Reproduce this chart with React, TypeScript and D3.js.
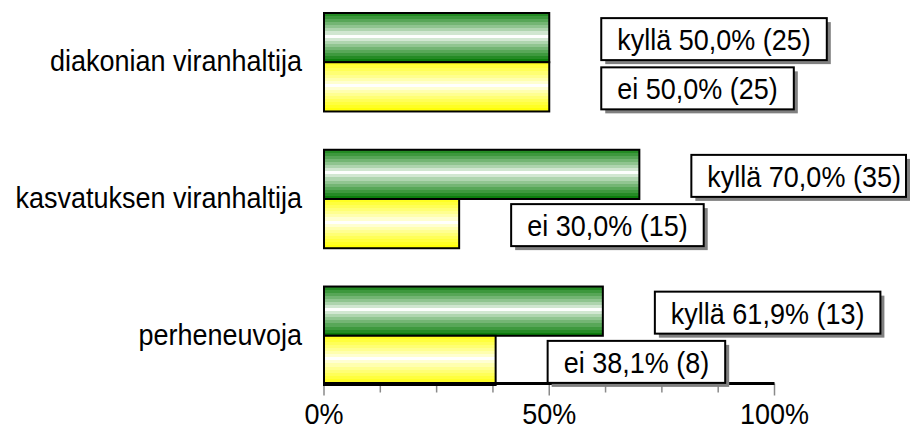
import React, { useEffect, useRef } from "react";
import * as d3 from "d3";

const categories = ["diakonian viranhaltija", "kasvatuksen viranhaltija", "perheneuvoja"];
const series = ["kyllä", "ei"];
const kyllaPct = [50.0, 70.0, 61.9];
const kyllaN = [25, 35, 13];
const eiPct = [50.0, 30.0, 38.1];
const eiN = [25, 15, 8];
const tickValues = [0, 12.5, 25, 37.5, 50, 62.5, 75, 87.5, 100];
const labelTicks = [0, 50, 100];

const W = 914;
const H = 430;
const FONT = "'Liberation Sans', Arial, Helvetica, sans-serif";
const FS = 27;
const SY = 1.1;

const fmt = (v: number) => v.toFixed(1).replace(".", ",");

export default function App() {
  const ref = useRef<SVGSVGElement>(null);

  useEffect(() => {
    const svg = d3.select(ref.current);
    svg.selectAll("*").remove();

    const x = d3.scaleLinear().domain([0, 100]).range([324, 774.5]);
    const y = d3.scaleBand<string>().domain(categories).range([13, 385]).paddingInner(0.28).paddingOuter(0);
    const ys = d3.scaleBand<string>().domain(series).range([0, y.bandwidth()]);

    const defs = svg.append("defs");
    const makeGrad = (id: string, dark: string) => {
      const g = defs.append("linearGradient").attr("id", id).attr("x1", 0).attr("y1", 0).attr("x2", 0).attr("y2", 1);
      const N = 16;
      const interp = d3.interpolateRgb("#ffffff", dark);
      for (let i = 0; i < N; i++) {
        const c = (i + 0.5) / N;
        const t = Math.abs(c - 0.47) / 0.53;
        const col = interp(Math.min(1, Math.pow(t, 0.8)));
        g.append("stop").attr("offset", i / N).attr("stop-color", col);
        g.append("stop").attr("offset", (i + 1) / N).attr("stop-color", col);
      }
    };
    makeGrad("gGreen", "#007800");
    makeGrad("gYellow", "#ffff00");

    const rows = categories.map((c, i) => [
      { cat: c, s: "kyllä", v: kyllaPct[i], n: kyllaN[i], fill: "url(#gGreen)" },
      { cat: c, s: "ei", v: eiPct[i], n: eiN[i], fill: "url(#gYellow)" },
    ]).flat();

    // axis ticks
    const axisY = 383.5;
    svg.append("g").selectAll("line").data(tickValues).join("line")
      .attr("x1", (d) => x(d)).attr("x2", (d) => x(d))
      .attr("y1", axisY).attr("y2", (d) => axisY + (d % 50 === 0 ? 12 : 9))
      .attr("stroke", "#8a8a8a").attr("stroke-width", 1.5);

    // bars
    svg.append("g").selectAll("rect").data(rows).join("rect")
      .attr("x", x(0))
      .attr("y", (d) => (y(d.cat) as number) + (ys(d.s) as number))
      .attr("width", (d) => x(d.v) - x(0))
      .attr("height", ys.bandwidth())
      .attr("fill", (d) => d.fill)
      .attr("stroke", "#000").attr("stroke-width", 2);

    // axis line
    svg.append("line").attr("x1", x(0)).attr("x2", x(100)).attr("y1", axisY).attr("y2", axisY)
      .attr("stroke", "#000").attr("stroke-width", 3);

    // category labels
    svg.append("g").selectAll("text").data(categories).join("text")
      .attr("transform", (d) => `translate(302, ${(y(d) as number) + y.bandwidth() / 2 + 9}) scale(1,${SY})`)
      .attr("text-anchor", "end")
      .attr("font-family", FONT).attr("font-size", FS).attr("fill", "#000")
      .text((d) => d);

    // x tick labels
    svg.append("g").selectAll("text").data(labelTicks).join("text")
      .attr("transform", (d) => `translate(${x(d)}, 424) scale(1,${SY})`)
      .attr("text-anchor", "middle")
      .attr("font-family", FONT).attr("font-size", FS).attr("fill", "#000")
      .text((d) => `${d}%`);

    // data labels
    const lg = svg.append("g");
    rows.forEach((d) => {
      const cy = (y(d.cat) as number) + (ys(d.s) as number) + ys.bandwidth() / 2 + 1.5;
      const left = x(d.v) + 52;
      const pad = 16;
      const g = lg.append("g");
      const shadow = g.append("rect");
      const box = g.append("rect");
      const t = g.append("text")
        .attr("transform", `translate(${left + pad}, ${cy + 11}) scale(1,${SY})`)
        .attr("font-family", FONT).attr("font-size", FS).attr("fill", "#000")
        .text(`${d.s} ${fmt(d.v)}% (${d.n})`);
      const tw = (t.node() as SVGTextElement).getComputedTextLength();
      const right = Math.min(left + tw + 2 * pad, 906);
      const bh = 42;
      shadow.attr("x", left + 4).attr("y", cy - bh / 2 + 4).attr("width", right - left).attr("height", bh)
        .attr("fill", "#808080");
      box.attr("x", left).attr("y", cy - bh / 2).attr("width", right - left).attr("height", bh)
        .attr("fill", "#fff").attr("stroke", "#000").attr("stroke-width", 2);
    });
  }, []);

  return (
    <svg ref={ref} width={W} height={H} style={{ position: "absolute", left: 0, top: 0, background: "#fff" }} />
  );
}
